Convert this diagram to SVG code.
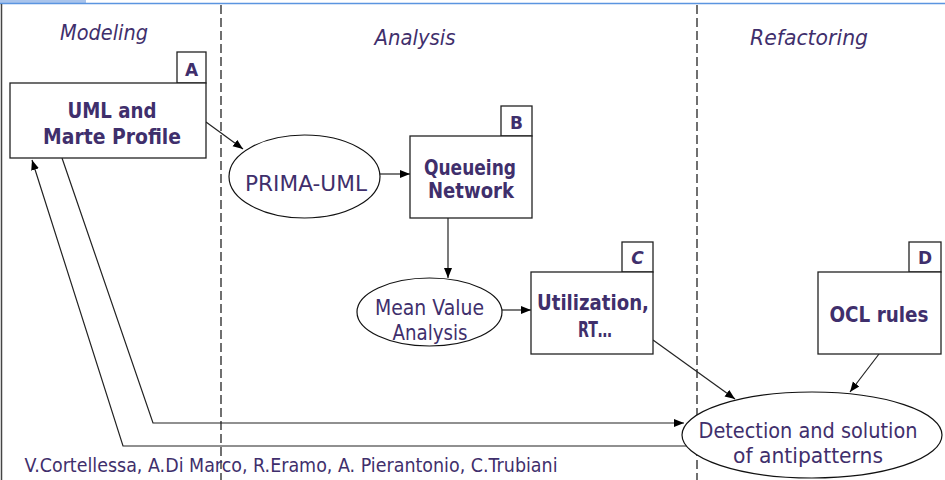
<svg xmlns="http://www.w3.org/2000/svg" width="945" height="480" viewBox="0 0 945 480">
  <defs>
    <marker id="arrow" viewBox="0 0 10 10" refX="10" refY="5" markerWidth="10" markerHeight="10" markerUnits="userSpaceOnUse" orient="auto">
      <path d="M0,1 L10,5 L0,9 z" fill="#000"/>
    </marker>
    <style>
      .box { fill: #fff; stroke: #222; stroke-width: 1.3; }
      .ell { fill: #fff; stroke: #111; stroke-width: 1.2; }
      .edge { fill: none; stroke: #222; stroke-width: 1.2; }
      .lane { stroke: #111; stroke-width: 1.2; stroke-dasharray: 9 4; }
      .txt { font-family: "DejaVu Sans", "Liberation Sans", sans-serif; fill: #3f2f6c; text-anchor: middle; }
      .bold { font-weight: bold; font-size: 21px; }
      .plain { font-size: 21px; }
      .head { font-style: italic; font-size: 22px; }
      .tag { font-weight: bold; font-size: 17px; }
    </style>
  </defs>

  <rect x="0" y="0" width="945" height="480" fill="#fff"/>

  <!-- frame edges -->
  <rect x="0" y="0" width="86" height="3" fill="#a9c4ec"/>
  <line x1="0" y1="3.5" x2="945" y2="3.5" stroke="#5b95e0" stroke-width="1.5"/>
  <line x1="1.5" y1="4" x2="1.5" y2="480" stroke="#444" stroke-width="1.5"/>

  <!-- swimlane separators -->
  <g id="lanes">
    <line class="lane" x1="221" y1="5" x2="221" y2="480"/>
    <line class="lane" x1="697" y1="5" x2="697" y2="480"/>
  </g>

  <!-- lane headings -->
  <g id="headings">
    <text class="txt head" x="104" y="40" textLength="88" lengthAdjust="spacingAndGlyphs">Modeling</text>
    <text class="txt head" x="415" y="45" textLength="81" lengthAdjust="spacingAndGlyphs">Analysis</text>
    <text class="txt head" x="809" y="45" textLength="118" lengthAdjust="spacingAndGlyphs">Refactoring</text>
  </g>

  <!-- connectors -->
  <g id="connectors">
    <line class="edge" x1="206" y1="122" x2="243" y2="149" marker-end="url(#arrow)"/>
    <line class="edge" x1="380" y1="174" x2="410" y2="174" marker-end="url(#arrow)"/>
    <line class="edge" x1="448" y1="218" x2="448" y2="278" marker-end="url(#arrow)"/>
    <line class="edge" x1="502" y1="310" x2="531" y2="310" marker-end="url(#arrow)"/>
    <line class="edge" x1="653" y1="340" x2="735" y2="399" marker-end="url(#arrow)"/>
    <line class="edge" x1="879" y1="354" x2="850" y2="392" marker-end="url(#arrow)"/>
    <polyline class="edge" points="62,158 153,423 684,423" marker-end="url(#arrow)"/>
    <polyline class="edge" points="686,446 123,446 32,160" marker-end="url(#arrow)"/>
  </g>

  <!-- A: UML and Marte Profile -->
  <g id="node-uml">
    <rect class="box" x="177" y="52" width="29" height="31"/>
    <text class="txt tag" x="191.5" y="76">A</text>
    <rect class="box" x="10" y="83" width="196" height="75"/>
    <text class="txt bold" x="112" y="118" textLength="89" lengthAdjust="spacingAndGlyphs">UML and</text>
    <text class="txt bold" x="112" y="144" textLength="138" lengthAdjust="spacingAndGlyphs">Marte Profile</text>
  </g>

  <!-- PRIMA-UML transformation -->
  <g id="node-prima">
    <ellipse class="ell" cx="304.5" cy="176.5" rx="75.5" ry="41.5"/>
    <text class="txt plain" x="306" y="191" textLength="122" lengthAdjust="spacingAndGlyphs">PRIMA-UML</text>
  </g>

  <!-- B: Queueing Network -->
  <g id="node-qn">
    <rect class="box" x="501" y="106" width="31" height="30"/>
    <text class="txt tag" x="516.5" y="129">B</text>
    <rect class="box" x="410" y="136" width="122" height="82"/>
    <text class="txt bold" x="470" y="175" textLength="92" lengthAdjust="spacingAndGlyphs">Queueing</text>
    <text class="txt bold" x="471" y="198" textLength="86" lengthAdjust="spacingAndGlyphs">Network</text>
  </g>

  <!-- Mean Value Analysis -->
  <g id="node-mva">
    <ellipse class="ell" cx="429.5" cy="312" rx="72.5" ry="34"/>
    <text class="txt plain" x="429.5" y="315" textLength="109" lengthAdjust="spacingAndGlyphs">Mean Value</text>
    <text class="txt plain" x="430" y="340" textLength="75" lengthAdjust="spacingAndGlyphs">Analysis</text>
  </g>

  <!-- C: Utilization, RT... -->
  <g id="node-results">
    <rect class="box" x="622" y="242" width="31" height="30"/>
    <text class="txt tag" x="637.5" y="264" font-style="italic">C</text>
    <rect class="box" x="531" y="272" width="122" height="82"/>
    <text class="txt bold" x="593" y="310" textLength="112" lengthAdjust="spacingAndGlyphs">Utilization,</text>
    <text class="txt bold" x="595" y="337" textLength="34" lengthAdjust="spacingAndGlyphs">RT…</text>
  </g>

  <!-- D: OCL rules -->
  <g id="node-ocl">
    <rect class="box" x="909" y="242" width="32" height="30"/>
    <text class="txt tag" x="925" y="264">D</text>
    <rect class="box" x="818" y="272" width="123" height="82"/>
    <text class="txt bold" x="879" y="322" textLength="99" lengthAdjust="spacingAndGlyphs">OCL rules</text>
  </g>

  <!-- Detection and solution of antipatterns -->
  <g id="node-detect">
    <ellipse class="ell" cx="812" cy="435" rx="130" ry="43"/>
    <text class="txt plain" x="808" y="438" textLength="219" lengthAdjust="spacingAndGlyphs">Detection and solution</text>
    <text class="txt plain" x="808" y="463" textLength="150" lengthAdjust="spacingAndGlyphs">of antipatterns</text>
  </g>

  <!-- authors -->
  <text class="txt" x="291" y="472" font-size="20" textLength="533" lengthAdjust="spacingAndGlyphs">V.Cortellessa, A.Di Marco, R.Eramo, A. Pierantonio, C.Trubiani</text>
</svg>
